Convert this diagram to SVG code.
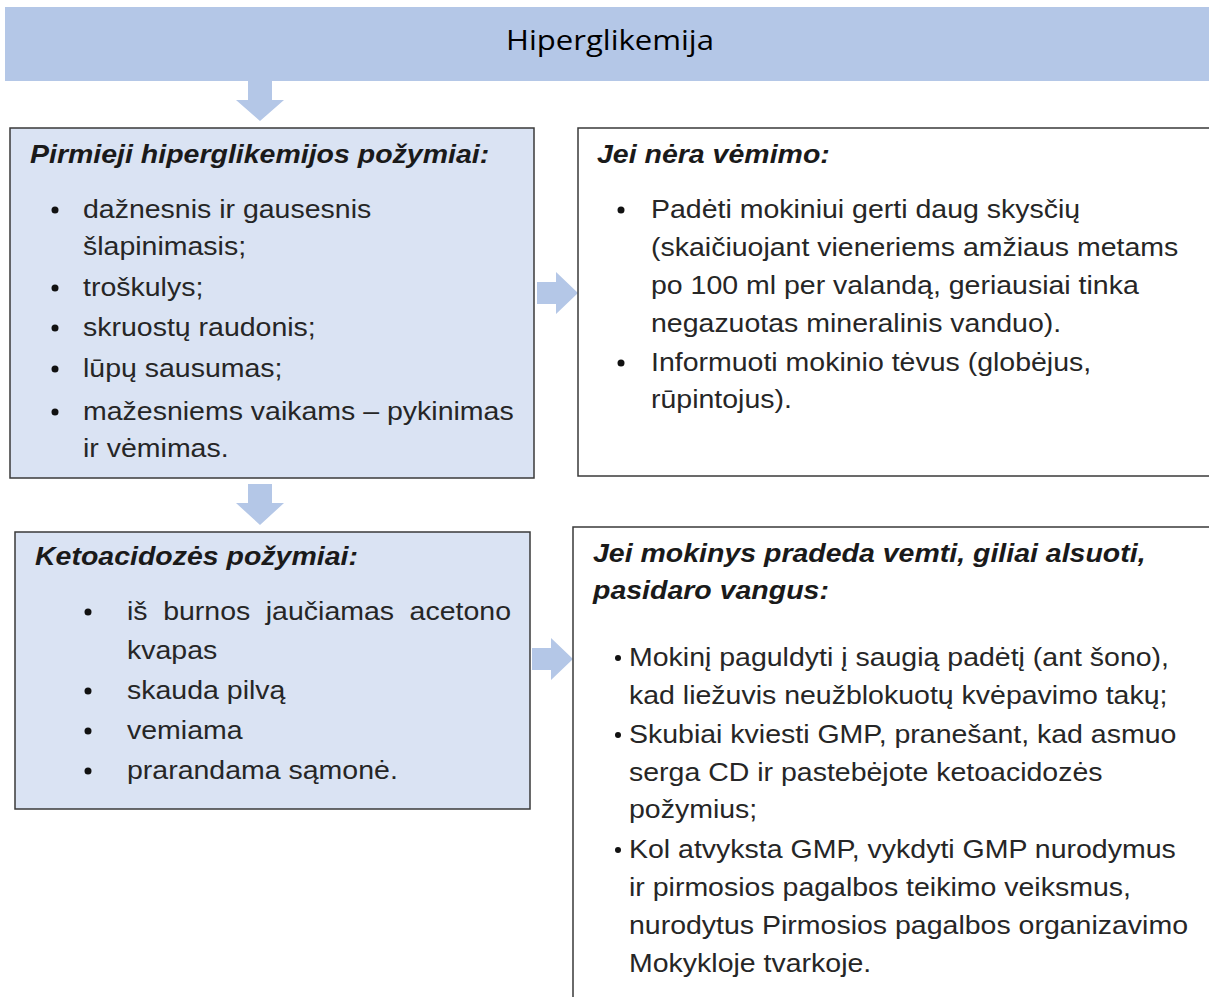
<svg xmlns="http://www.w3.org/2000/svg" width="1209" height="997" viewBox="0 0 1209 997">
<style>
.box{stroke:#3a3a3a;stroke-width:1.5}
.blue{fill:#dae3f3}
.white{fill:#ffffff}
.arrow{fill:#b4c7e7}
.h{font-family:"Liberation Sans",Arial,sans-serif;font-size:25px;font-weight:bold;font-style:italic;fill:#1a1a1a}
.t{font-family:"Liberation Sans",Arial,sans-serif;font-size:25px;fill:#262626}
.title{font-family:"Open Sans","Noto Sans",sans-serif;font-size:27px;fill:#000}
.dot{fill:#111}
</style>
<rect width="1209" height="997" fill="#ffffff"/>
<g id="header">
<rect x="5" y="7" width="1210" height="74" fill="#b4c7e7"/>
<text class="title" x="610" y="50" text-anchor="middle" textLength="208" lengthAdjust="spacingAndGlyphs">Hiperglikemija</text>
</g>
<g id="connectors">
<polygon class="arrow" points="248,81 272,81 272,100 284,100 260,121 236,100 248,100"/>
<polygon class="arrow" points="248,484 272,484 272,503 284,503 260,525 236,503 248,503"/>
<polygon class="arrow" points="537,282 556,282 556,272 578,293 556,314 556,304 537,304"/>
<polygon class="arrow" points="532,648 551,648 551,638 573,659 551,680 551,670 532,670"/>
</g>
<g id="node-pirmieji">
<rect class="box blue" x="10" y="128" width="524" height="350"/>
<g transform="translate(30,0) scale(1.14,1)"><text class="h" x="0" y="163">Pirmieji hiperglikemijos požymiai:</text></g>
<circle class="dot" cx="55" cy="210" r="3.5"/>
<circle class="dot" cx="55" cy="288" r="3.5"/>
<circle class="dot" cx="55" cy="328" r="3.5"/>
<circle class="dot" cx="55" cy="369" r="3.5"/>
<circle class="dot" cx="55" cy="412" r="3.5"/>
<g transform="translate(83,0) scale(1.14,1)">
<text class="t" x="0" y="218">dažnesnis ir gausesnis</text>
<text class="t" x="0" y="255">šlapinimasis;</text>
<text class="t" x="0" y="296">troškulys;</text>
<text class="t" x="0" y="336">skruostų raudonis;</text>
<text class="t" x="0" y="377">lūpų sausumas;</text>
<text class="t" x="0" y="420">mažesniems vaikams – pykinimas</text>
<text class="t" x="0" y="457">ir vėmimas.</text>
</g>
</g>
<g id="node-jei-nera">
<rect class="box white" x="578" y="128" width="640" height="348"/>
<g transform="translate(597,0) scale(1.14,1)"><text class="h" x="0" y="163">Jei nėra vėmimo:</text></g>
<circle class="dot" cx="621" cy="210" r="3.5"/>
<circle class="dot" cx="621" cy="363" r="3.5"/>
<g transform="translate(651,0) scale(1.14,1)">
<text class="t" x="0" y="218">Padėti mokiniui gerti daug skysčių</text>
<text class="t" x="0" y="256">(skaičiuojant vieneriems amžiaus metams</text>
<text class="t" x="0" y="294">po 100 ml per valandą, geriausiai tinka</text>
<text class="t" x="0" y="332">negazuotas mineralinis vanduo).</text>
<text class="t" x="0" y="371">Informuoti mokinio tėvus (globėjus,</text>
<text class="t" x="0" y="408">rūpintojus).</text>
</g>
</g>
<g id="node-ketoacidoze">
<rect class="box blue" x="15" y="532" width="515" height="277"/>
<g transform="translate(35,0) scale(1.14,1)"><text class="h" x="0" y="565">Ketoacidozės požymiai:</text></g>
<circle class="dot" cx="88" cy="612" r="3.5"/>
<circle class="dot" cx="88" cy="691" r="3.5"/>
<circle class="dot" cx="88" cy="731" r="3.5"/>
<circle class="dot" cx="88" cy="771" r="3.5"/>
<g transform="translate(127,0) scale(1.14,1)">
<text class="t" x="0" y="620" word-spacing="6.7">iš burnos jaučiamas acetono</text>
<text class="t" x="0" y="659">kvapas</text>
<text class="t" x="0" y="699">skauda pilvą</text>
<text class="t" x="0" y="739">vemiama</text>
<text class="t" x="0" y="779">prarandama sąmonė.</text>
</g>
</g>
<g id="node-jei-vemia">
<rect class="box white" x="573" y="527" width="645" height="480"/>
<g transform="translate(593,0) scale(1.14,1)">
<text class="h" x="0" y="562">Jei mokinys pradeda vemti, giliai alsuoti,</text>
<text class="h" x="0" y="599">pasidaro vangus:</text>
</g>
<circle class="dot" cx="618" cy="658" r="3"/>
<circle class="dot" cx="618" cy="735" r="3"/>
<circle class="dot" cx="618" cy="850" r="3"/>
<g transform="translate(629,0) scale(1.14,1)">
<text class="t" x="0" y="666">Mokinį paguldyti į saugią padėtį (ant šono),</text>
<text class="t" x="0" y="704">kad liežuvis neužblokuotų kvėpavimo takų;</text>
<text class="t" x="0" y="743">Skubiai kviesti GMP, pranešant, kad asmuo</text>
<text class="t" x="0" y="781">serga CD ir pastebėjote ketoacidozės</text>
<text class="t" x="0" y="818">požymius;</text>
<text class="t" x="0" y="858">Kol atvyksta GMP, vykdyti GMP nurodymus</text>
<text class="t" x="0" y="896">ir pirmosios pagalbos teikimo veiksmus,</text>
<text class="t" x="0" y="934">nurodytus Pirmosios pagalbos organizavimo</text>
<text class="t" x="0" y="972">Mokykloje tvarkoje.</text>
</g>
</g>
</svg>
